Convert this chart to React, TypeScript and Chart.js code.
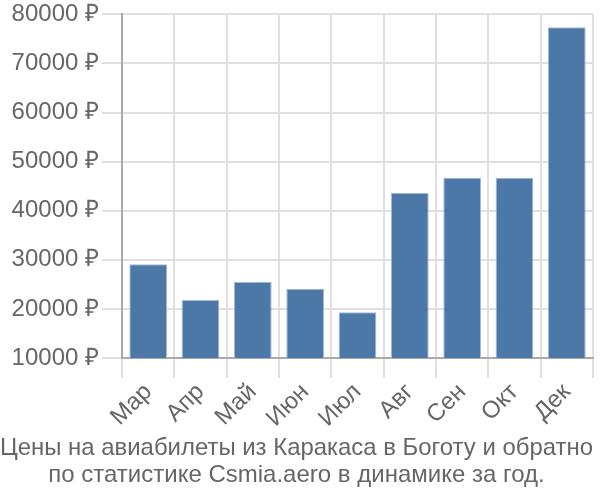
import React, { useEffect, useRef } from "react";
import { Chart, registerables } from "chart.js";

Chart.register(...registerables);

const categories = ["Мар", "Апр", "Май", "Июн", "Июл", "Авг", "Сен", "Окт", "Дек"];
const prices = [29100, 21800, 25500, 24100, 19300, 43600, 46700, 46700, 77400];
const yTicks = [10000, 20000, 30000, 40000, 50000, 60000, 70000, 80000];
const titleLines = [
  "Цены на авиабилеты из Каракаса в Боготу и обратно",
  "по статистике Csmia.aero в динамике за год.",
];

const FONT = "'Liberation Sans', Arial, sans-serif";

export default function App() {
  const ref = useRef<HTMLCanvasElement | null>(null);
  useEffect(() => {
    if (!ref.current) return;
    const chart = new Chart(ref.current, {
      type: "bar",
      data: {
        labels: categories,
        datasets: [
          {
            data: prices,
            backgroundColor: "#4c78a8",
            borderColor: "#9fb8d6",
            borderWidth: 1,
            categoryPercentage: 0.72,
            barPercentage: 1,
          },
        ],
      },
      options: {
        animation: false,
        responsive: false,
        layout: { padding: { top: 0, right: 7, left: 0, bottom: 11 } },
        plugins: {
          legend: { display: false },
          tooltip: { enabled: false },
          title: {
            display: true,
            position: "bottom",
            text: titleLines,
            color: "#666",
            font: { family: FONT, size: 24, weight: "normal", lineHeight: 1.125 },
            padding: { top: 0, bottom: 0 },
          },
        },
        scales: {
          x: {
            grid: { color: "#e0e0e0", lineWidth: 2, tickLength: 20, offset: true },
            border: { color: "#aaa", width: 2 },
            ticks: {
              color: "#666",
              font: { family: FONT, size: 24 },
              maxRotation: 45,
              minRotation: 45,
              padding: 0,
            },
            afterFit: (s: any) => {
              s.height = 77;
            },
          },
          y: {
            min: 10000,
            max: 80000,
            afterBuildTicks: (s: any) => {
              s.ticks = yTicks.map((v) => ({ value: v }));
            },
            grid: { color: "#e0e0e0", lineWidth: 2, tickLength: 20 },
            border: { color: "#aaa", width: 2 },
            ticks: {
              color: "#666",
              font: { family: FONT, size: 24, lineHeight: 0.95 },
              padding: 3,
              callback: (v: any) => `${v} ₽`,
            },
            afterFit: (s: any) => {
              s.width = 122;
            },
          },
        },
      },
    });
    return () => chart.destroy();
  }, []);
  return (
    <div style={{ position: "fixed", left: 0, top: 0, width: 600, height: 500, background: "#fff" }}>
      <canvas ref={ref} width={600} height={500} style={{ width: 600, height: 500 }} />
    </div>
  );
}
